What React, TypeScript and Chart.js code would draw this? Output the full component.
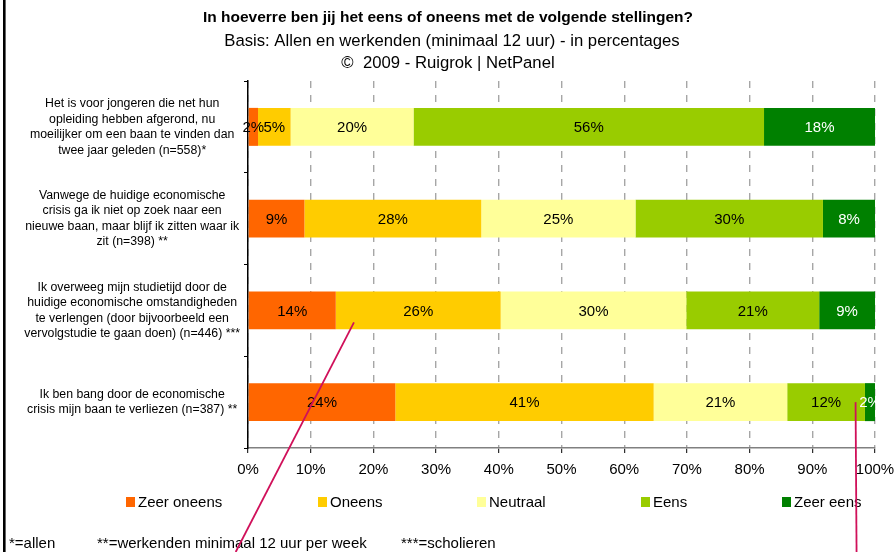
import React, { useEffect, useRef } from "react";
import { Chart, registerables } from "chart.js";

Chart.register(...registerables);

const FONT = "'Liberation Sans', Arial, sans-serif";

const titleText = "In hoeverre ben jij het eens of oneens met de volgende stellingen?";
const subtitleLines = [
  "Basis: Allen en werkenden (minimaal 12 uur) - in percentages",
  "©  2009 - Ruigrok | NetPanel",
];

const categories: string[][] = [
  ["Het is voor jongeren die net hun", "opleiding hebben afgerond, nu", "moeilijker om een baan te vinden dan", "twee jaar geleden (n=558)*"],
  ["Vanwege de huidige economische", "crisis ga ik niet op zoek naar een", "nieuwe baan, maar blijf ik zitten waar ik", "zit (n=398) **"],
  ["Ik overweeg mijn studietijd door de", "huidige economische omstandigheden", "te verlengen (door bijvoorbeeld een", "vervolgstudie te gaan doen) (n=446) ***"],
  ["Ik ben bang door de economische", "crisis mijn baan te verliezen (n=387) **"],
];

const seriesNames = ["Zeer oneens", "Oneens", "Neutraal", "Eens", "Zeer eens"];
const zeerOneens = [1.6, 9.0, 14.0, 23.5];
const oneens = [5.2, 28.2, 26.3, 41.2];
const neutraal = [19.6, 24.6, 29.6, 21.3];
const eens = [55.9, 29.9, 21.2, 12.4];
const zeerEens = [17.7, 8.3, 8.9, 1.6];
const seriesColors = ["#FF6600", "#FFCC00", "#FFFF99", "#99CC00", "#008000"];
const labelColors = ["#000000", "#000000", "#000000", "#000000", "#FFFFFF"];

const xTicks = [0, 10, 20, 30, 40, 50, 60, 70, 80, 90, 100];

const footnotes = ["*=allen", "**=werkenden minimaal 12 uur per week", "***=scholieren"];

// layout constants (pixels)
const legendX = [126, 318, 477, 641, 782];
const footX = [9, 97, 401];

export default function App() {
  const ref = useRef<HTMLCanvasElement | null>(null);

  useEffect(() => {
    if (!ref.current) return;
    Chart.defaults.font.family = FONT;
    Chart.defaults.color = "#000";

    const decor = {
      id: "decor",
      afterDatasetsDraw(chart: any) {
        const ctx = chart.ctx;
        ctx.save();
        ctx.font = `15px ${FONT}`;
        ctx.textAlign = "center";
        ctx.textBaseline = "middle";
        chart.data.datasets.forEach((ds: any, di: number) => {
          const meta = chart.getDatasetMeta(di);
          meta.data.forEach((el: any, i: number) => {
            const v = ds.data[i];
            const cx = (el.x + el.base) / 2;
            ctx.fillStyle = labelColors[di];
            ctx.fillText(`${Math.round(v)}%`, cx, el.y + 1);
          });
        });
        ctx.restore();
      },
      afterDraw(chart: any) {
        const ctx = chart.ctx;
        const W = chart.width;
        ctx.save();
        // titles
        ctx.fillStyle = "#000";
        ctx.textAlign = "center";
        ctx.textBaseline = "middle";
        ctx.font = `bold 15.5px ${FONT}`;
        ctx.fillText(titleText, W / 2, 18);
        ctx.font = `16.7px ${FONT}`;
        subtitleLines.forEach((t, i) => ctx.fillText(t, W / 2 + (i === 0 ? 4 : 0), 41 + i * 22));

        // legend
        ctx.font = `15px ${FONT}`;
        ctx.textAlign = "left";
        chart.data.datasets.forEach((ds: any, i: number) => {
          const x = legendX[i];
          ctx.fillStyle = ds.backgroundColor;
          ctx.fillRect(x, 497, 9, 10);
          ctx.fillStyle = "#000";
          ctx.fillText(ds.label, x + 12, 503);
        });

        // footnotes
        footnotes.forEach((t, i) => ctx.fillText(t, footX[i], 544));

        // left border
        ctx.fillStyle = "#000";
        ctx.fillRect(3, 0, 2.6, chart.height);

        // annotation pen lines
        const xs = chart.scales.x;
        const ys = chart.scales.y;
        ctx.strokeStyle = "#D0105A";
        ctx.lineWidth = 1.8;
        ctx.beginPath();
        const x1 = xs.getPixelForValue(16.9);
        const y1 = ys.getPixelForValue(2) + 12;
        ctx.moveTo(x1, y1);
        ctx.lineTo(x1 - 0.515 * (chart.height - y1), chart.height);
        ctx.stroke();
        ctx.beginPath();
        const x2 = xs.getPixelForValue(96.9);
        ctx.moveTo(x2, ys.getPixelForValue(3));
        ctx.lineTo(x2 + 1, chart.height);
        ctx.stroke();
        ctx.restore();
      },
    };

    const chart = new Chart(ref.current, {
      type: "bar",
      data: {
        labels: categories,
        datasets: [zeerOneens, oneens, neutraal, eens, zeerEens].map((d, i) => ({
          label: seriesNames[i],
          data: d,
          backgroundColor: seriesColors[i],
          borderWidth: 0,
          barPercentage: 0.414,
          categoryPercentage: 1,
        })),
      },
      options: {
        indexAxis: "y",
        responsive: false,
        animation: false,
        devicePixelRatio: 1,
        layout: { padding: { left: 4, right: 21, top: 81, bottom: 72 } },
        plugins: {
          legend: { display: false },
          title: { display: false },
          tooltip: { enabled: false },
        },
        scales: {
          x: {
            stacked: true,
            min: 0,
            max: 100,
            afterBuildTicks: (s: any) => {
              s.ticks = xTicks.map((v) => ({ value: v }));
            },
            afterFit: (s: any) => {
              s.height = 32;
              s.paddingRight = 0;
              s.paddingLeft = 0;
            },
            ticks: {
              font: { size: 15, family: FONT },
              color: "#000",
              padding: 8,
              maxRotation: 0,
              autoSkip: false,
              callback: (v: any) => `${v}%`,
            },
            grid: {
              color: "#A6A6A6",
              lineWidth: 1.4,
              tickColor: "#000",
              tickLength: 5,
              tickWidth: 1,
              tickBorderDash: [],
            },
            border: { color: "#808080", width: 1.6, dash: [7, 7] },
          },
          y: {
            stacked: true,
            afterFit: (s: any) => {
              s.width = 244;
            },
            ticks: {
              font: { size: 12.3, family: FONT, lineHeight: 1.26 },
              color: "#000",
              crossAlign: "center",
              padding: 4,
              autoSkip: false,
            },
            grid: {
              offset: true,
              drawOnChartArea: false,
              color: "#000",
              tickLength: 4,
              lineWidth: 1,
            },
            border: { color: "#000", width: 1.5 },
          },
        },
      },
      plugins: [decor],
    } as any);

    return () => chart.destroy();
  }, []);

  return (
    <div style={{ position: "absolute", left: 0, top: 0, width: 896, height: 552, background: "#fff" }}>
      <canvas ref={ref} width={896} height={552} style={{ display: "block" }} />
    </div>
  );
}
